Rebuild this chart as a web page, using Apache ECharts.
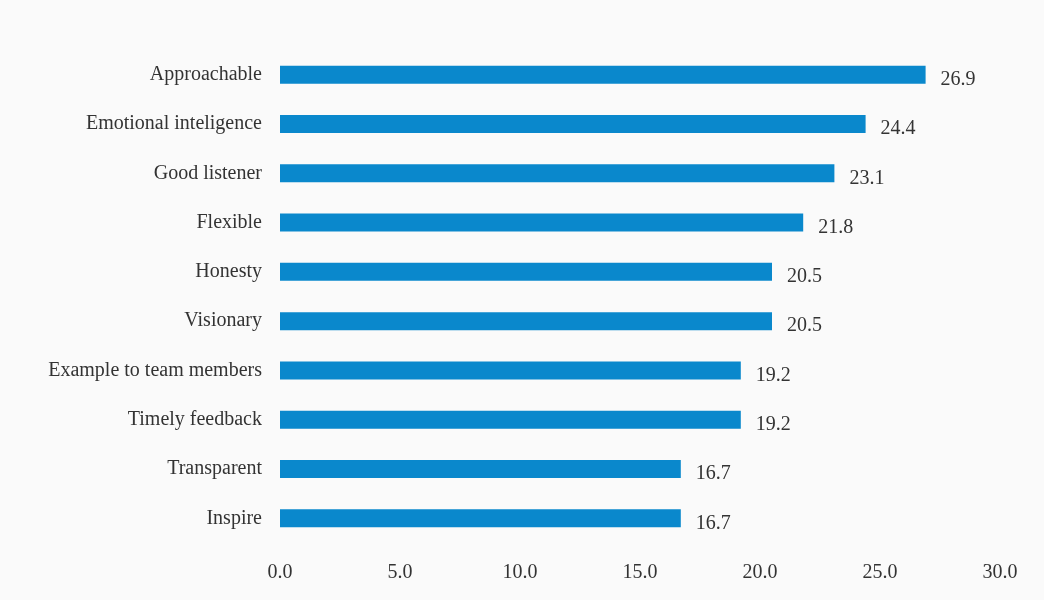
<!DOCTYPE html>
<html>
<head>
<meta charset="utf-8">
<script src="https://cdn.jsdelivr.net/npm/echarts@6/dist/echarts.min.js"></script>
<style>html,body{margin:0;padding:0;background:#fafafa;}#c{width:1044px;height:600px;}</style>
</head>
<body>
<div id="c"></div>
<script>
var categories = ["Approachable","Emotional inteligence","Good listener","Flexible","Honesty","Visionary","Example to team members","Timely feedback","Transparent","Inspire"];
var values = [26.9, 24.4, 23.1, 21.8, 20.5, 20.5, 19.2, 19.2, 16.7, 16.7];
var xTicks = [0, 5, 10, 15, 20, 25, 30];

var chart = echarts.init(document.getElementById('c'));
var font = "'Liberation Serif', 'Times New Roman', serif";
chart.setOption({
  backgroundColor: '#fafafa',
  animation: false,
  grid: {left: 280, right: 44, top: 50, bottom: 57, containLabel: false},
  xAxis: {
    type: 'value', min: 0, max: 30, interval: 5,
    axisLine: {show: false}, axisTick: {show: false}, splitLine: {show: false},
    axisLabel: {margin: 20, color: '#333', fontFamily: font, fontSize: 20,
      formatter: function(v){ return v.toFixed(1); }}
  },
  yAxis: {
    type: 'category', data: categories, inverse: true,
    axisLine: {show: false}, axisTick: {show: false}, splitLine: {show: false},
    axisLabel: {margin: 18, color: '#333', fontFamily: font, fontSize: 20}
  },
  series: [{
    type: 'bar', data: values, barWidth: 18,
    itemStyle: {color: '#0a88cc'},
    label: {show: true, position: 'right', distance: 15, color: '#333', fontFamily: font, fontSize: 20, offset: [0, 5],
      formatter: function(p){ return p.value.toFixed(1); }}
  }]
});
</script>
</body>
</html>
